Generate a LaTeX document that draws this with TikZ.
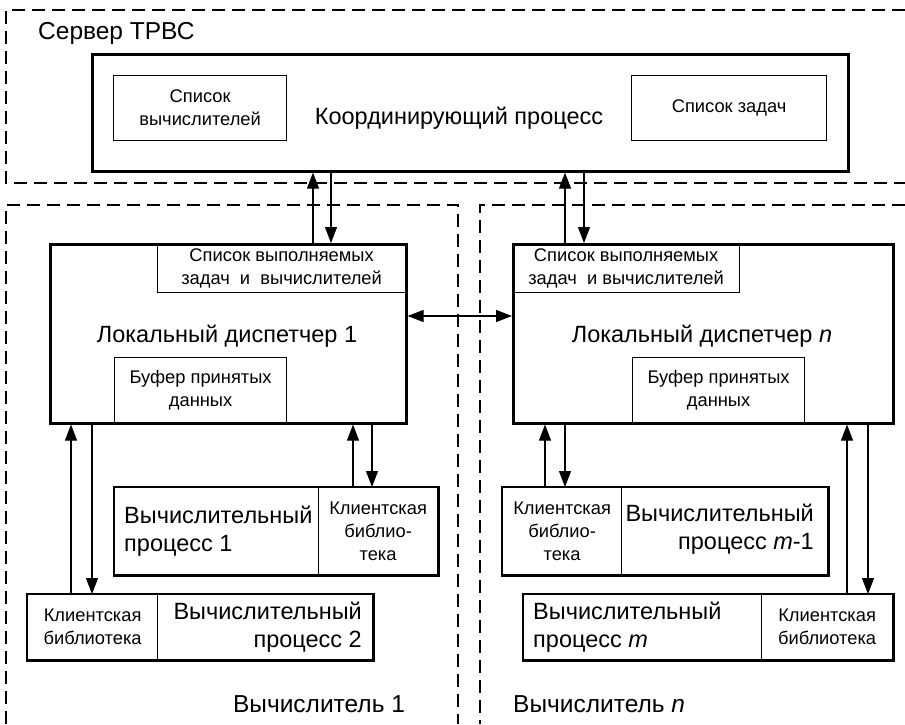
\documentclass[tikz,border=0pt]{standalone}
\usepackage{fontspec}
\setmainfont{Liberation Sans}
\usetikzlibrary{arrows.meta}
\newcommand\fsmall{\fontsize{18.3}{23}\selectfont}
\newcommand\fbig{\fontsize{23.5}{28}\selectfont}
\newcommand\flabel{\fontsize{24.5}{28}\selectfont}
\begin{document}
\begin{tikzpicture}[x=1pt,y=-1pt,
  thickbox/.style={draw, line width=2.6pt, inner sep=0pt, anchor=north west},
  thinbox/.style={draw, line width=1.2pt, inner sep=0pt, anchor=north west, align=center, font=\fsmall},
  thickline/.style={draw, line width=2.6pt},
  bigtext/.style={font=\fbig, inner sep=0pt},
  labeltext/.style={font=\flabel, inner sep=0pt},
  arr/.style={line width=1.2pt, -{Triangle[length=16pt,width=12pt]}},
  arrtwo/.style={line width=1.2pt, {Triangle[length=16pt,width=12pt]}-{Triangle[length=16pt,width=12pt]}},
  dline/.style={line width=1.3pt, dash pattern=on 13pt off 7pt}]
\useasboundingbox (0,0) rectangle (905,724);
% dashed regions
\draw[dline] (905,10) -- (6,10) -- (6,183) -- (905,183);
\draw[dline] (6,724) -- (6,205) -- (458,205) -- (458,724);
\draw[dline] (905,205) -- (480,205) -- (480,724);
\node[labeltext, anchor=base west] (srv) at (38,39) {Сервер ТРВС};
\node[labeltext, anchor=base] (v1) at (319,712) {Вычислитель 1};
\node[labeltext, anchor=base west] (vn) at (513,712) {Вычислитель \textit{n}};
% coordinator
\node[thickbox, minimum width=756pt, minimum height=117pt] (coord) at (91,53) {};
\node[thinbox, minimum width=173pt, minimum height=65pt] (calc) at (113,75) {Список\\вычислителей};
\node[thinbox, minimum width=195pt, minimum height=65pt] (tasks) at (631,75) {Список задач};
\node[bigtext, anchor=base] (coordlbl) at (459,124) {Координирующий процесс};
% local dispatcher 1
\node[thickbox, minimum width=356pt, minimum height=179pt] (ld1) at (49,243) {};
\node[thinbox, minimum width=248pt, minimum height=49pt] (ld1list) at (157,243) {Список выполняемых\\задач\ \ и\ \ вычислителей};
\node[thinbox, minimum width=172pt, minimum height=65pt] (ld1buf) at (114,357) {Буфер принятых\\данных};
\node[bigtext, anchor=base] (ld1lbl) at (227,342) {Локальный диспетчер 1};
% local dispatcher n
\node[thickbox, minimum width=380pt, minimum height=179pt] (ldn) at (512,243) {};
\node[thinbox, minimum width=227pt, minimum height=49pt] (ldnlist) at (512,243) {Список выполняемых\\задач\ \ и вычислителей};
\node[thinbox, minimum width=172pt, minimum height=65pt] (ldnbuf) at (632,357) {Буфер принятых\\данных};
\node[bigtext, anchor=base] (ldnlbl) at (702,342) {Локальный диспетчер \textit{n}};
% process 1
\node[thinbox, minimum width=204pt, minimum height=87pt] (cp1) at (114,487) {};
\node[thinbox, minimum width=119pt, minimum height=87pt] (lib1) at (318,487) {Клиентская\\библио-\\тека};
\draw[thickline] (cp1.north west) rectangle (lib1.south east);
\node[bigtext, anchor=west, align=left] (cp1lbl) at (124,531) {Вычислительный\\процесс 1};
% process 2
\node[thinbox, minimum width=130pt, minimum height=65pt] (lib2) at (27,594) {Клиентская\\библиотека};
\node[thinbox, minimum width=215pt, minimum height=65pt] (cp2) at (157,594) {};
\draw[thickline] (lib2.north west) rectangle (cp2.south east);
\node[bigtext, anchor=east, align=right] (cp2lbl) at (362,627) {Вычислительный\\процесс 2};
% process m-1
\node[thinbox, minimum width=119pt, minimum height=87pt] (libm1) at (502,487) {Клиентская\\библио-\\тека};
\node[thinbox, minimum width=206pt, minimum height=87pt] (cpm1) at (621,487) {};
\draw[thickline] (libm1.north west) rectangle (cpm1.south east);
\node[bigtext, anchor=east, align=right] (cpm1lbl) at (814,529) {Вычислительный\\процесс \textit{m}-1};
% process m
\node[thinbox, minimum width=238pt, minimum height=65pt] (cpm) at (523,594) {};
\node[thinbox, minimum width=131pt, minimum height=65pt] (libm) at (761,594) {Клиентская\\библиотека};
\draw[thickline] (cpm.north west) rectangle (libm.south east);
\node[bigtext, anchor=west, align=left] (cpmlbl) at (533,627) {Вычислительный\\процесс \textit{m}};
% arrow x positions
\coordinate (a1) at (313,0); \coordinate (a2) at (331,0);
\coordinate (a3) at (565,0); \coordinate (a4) at (584,0);
\coordinate (b1) at (71,0); \coordinate (b2) at (92,0);
\coordinate (b3) at (353,0); \coordinate (b4) at (372,0);
\coordinate (b5) at (545,0); \coordinate (b6) at (565,0);
\coordinate (b7) at (847,0); \coordinate (b8) at (868,0);
\coordinate (mid) at (0,316);
% connectors
\draw[arr] (ld1.north -| a1) -- (coord.south -| a1);
\draw[arr] (coord.south -| a2) -- (ld1.north -| a2);
\draw[arr] (ldn.north -| a3) -- (coord.south -| a3);
\draw[arr] (coord.south -| a4) -- (ldn.north -| a4);
\draw[arrtwo] (ld1.east |- mid) -- (ldn.west |- mid);
\draw[arr] (lib2.north -| b1) -- (ld1.south -| b1);
\draw[arr] (ld1.south -| b2) -- (lib2.north -| b2);
\draw[arr] (lib1.north -| b3) -- (ld1.south -| b3);
\draw[arr] (ld1.south -| b4) -- (lib1.north -| b4);
\draw[arr] (libm1.north -| b5) -- (ldn.south -| b5);
\draw[arr] (ldn.south -| b6) -- (libm1.north -| b6);
\draw[arr] (libm.north -| b7) -- (ldn.south -| b7);
\draw[arr] (ldn.south -| b8) -- (libm.north -| b8);
\end{tikzpicture}
\end{document}
